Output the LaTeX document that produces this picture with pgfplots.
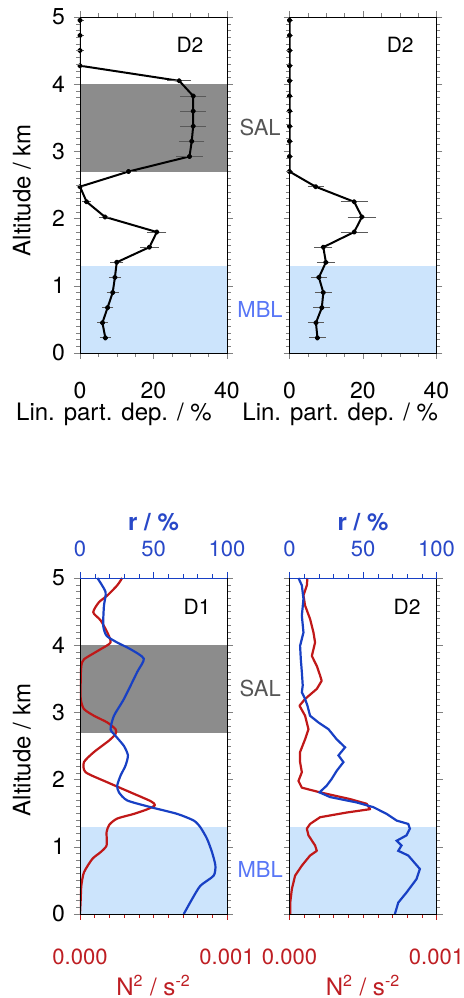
\documentclass[border=0pt]{standalone}
\usepackage{fontspec}
\setmainfont{TeX Gyre Heros}
\usepackage{pgfplots}
\pgfplotsset{compat=1.18}

\definecolor{salgrey}{RGB}{140,140,140}
\definecolor{mblblue}{RGB}{204,228,252}
\definecolor{mbltext}{RGB}{88,118,246}
\definecolor{saltext}{RGB}{85,85,85}
\definecolor{nred}{RGB}{192,24,24}
\definecolor{rblue}{RGB}{24,64,196}
\definecolor{ntext}{RGB}{190,30,35}
\definecolor{rtext}{RGB}{40,72,200}

\newcommand{\fa}{\fontsize{12}{14}\selectfont}   % axis labels
\newcommand{\ft}{\fontsize{11.5}{13}\selectfont} % tick labels (top)
\newcommand{\fb}{\fontsize{11}{13}\selectfont}   % tick labels (bottom)
\newcommand{\fc}{\fontsize{10.5}{12}\selectfont} % panel names
\newcommand{\fs}{\fontsize{11}{13}\selectfont}   % SAL / MBL

\pgfplotsset{
  panel/.style={
    scale only axis, width=73.5pt, height=168pt,
    ymin=0, ymax=5, ytick={0,1,2,3,4,5}, minor y tick num=9,
    tick align=outside, major tick length=3pt, minor tick length=1.8pt,
    axis on top, clip mode=individual,
    /pgf/number format/assume math mode=true,
    tick label style={font=\ft},
    label style={font=\fa},
    yticklabel style={xshift=-1pt},
    every axis plot/.append style={line join=round},
  },
  toppanel/.style={
    panel, xmin=0, xmax=40, xtick={0,20,40}, minor x tick num=3,
    xticklabel style={yshift=-8pt},
  },
  dep/.style={
    black, line width=1pt, mark=*, mark size=0.85pt,
    error bars/.cd, x dir=both, x explicit,
    error bar style={draw=black!65, line width=0.4pt},
    error mark options={draw=black!65, mark size=1.6pt, line width=0.4pt},
  },
  npanel/.style={
    panel, xmin=0, xmax=0.001, xtick={0,0.001}, xticklabels={0.000,0.001},
    scaled x ticks=false,
    minor x tick num=9, xtick pos=lower,
    x tick style={nred}, minor x tick style={nred},
    xticklabel style={font=\fb, text=ntext, yshift=-11pt},
    xlabel={N\textsuperscript{2} / s\textsuperscript{-2}},
    xlabel style={text=ntext, at={(axis description cs:0.5,-0.212)}, anchor=center},
  },
  rpanel/.style={
    scale only axis, width=73.5pt, height=168pt,
    ymin=0, ymax=5, xmin=0, xmax=100, xtick={0,50,100}, minor x tick num=4,
    axis x line*=top, axis y line=none,
    tick align=outside, major tick length=3pt, minor tick length=1.8pt,
    x axis line style={rblue, -}, x tick style={rblue}, minor x tick style={rblue},
    /pgf/number format/assume math mode=true,
    xticklabel style={font=\fb, text=rtext, yshift=4pt},
    xlabel={r / \%},
    xlabel style={font=\fa\bfseries, text=rtext, at={(axis description cs:0.5,1.167)}, anchor=center},
  },
}

\begin{document}
\begin{tikzpicture}
\useasboundingbox (0,0) rectangle (231.5pt,499pt);

% top left: depolarisation D2
\begin{axis}[toppanel, at={(40pt,322.5pt)}, anchor=south west,
  xlabel={Lin. part. dep. / \%},
  xlabel style={at={(axis description cs:0.231,-0.183)}, anchor=center},
  ylabel={Altitude / km},
  ylabel style={at={(axis description cs:-0.395,0.485)}, anchor=center}]
\addplot[draw=none, fill=salgrey] coordinates {(0,2.7) (40,2.7) (40,4.0) (0,4.0)} -- cycle;
\addplot[draw=none, fill=mblblue] coordinates {(0,0) (40,0) (40,1.3) (0,1.3)} -- cycle;
\addplot[dep] coordinates {
  (0,4.95) +- (0.1,0)
  (0,4.725) +- (0.1,0)
  (0,4.5) +- (0.1,0)
  (0,4.275) +- (0.1,0)
  (27.0,4.05) +- (2.4,0)
  (30.8,3.825) +- (2.7,0)
  (30.8,3.6) +- (2.6,0)
  (30.8,3.375) +- (2.6,0)
  (30.4,3.15) +- (2.6,0)
  (29.8,2.925) +- (2.7,0)
  (13.2,2.7) +- (1.5,0)
  (0,2.475) +- (0.2,0)
  (1.8,2.25) +- (0.3,0)
  (6.8,2.025) +- (0.8,0)
  (20.9,1.8) +- (1.7,0)
  (18.9,1.575) +- (1.6,0)
  (10.0,1.35) +- (0.9,0)
  (9.5,1.125) +- (0.8,0)
  (8.9,0.9) +- (0.8,0)
  (7.5,0.675) +- (0.7,0)
  (6.1,0.45) +- (0.6,0)
  (6.9,0.225) +- (0.6,0)
};
\node[font=\fc] at (axis description cs:0.748,0.917) {D2};
\node[font=\fs, text=saltext] at (axis cs:49,3.35) {SAL};
\node[font=\fs, text=mbltext] at (axis cs:49,0.65) {MBL};
\end{axis}

% top right: depolarisation D2
\begin{axis}[toppanel, at={(144.75pt,322.5pt)}, anchor=south west,
  yticklabels={},
  xlabel={Lin. part. dep. / \%},
  xlabel style={at={(axis description cs:0.345,-0.183)}, anchor=center}]
\addplot[draw=none, fill=mblblue] coordinates {(0,0) (40,0) (40,1.3) (0,1.3)} -- cycle;
\addplot[dep] coordinates {
  (0,4.95) +- (0.1,0)
  (0,4.725) +- (0.1,0)
  (0,4.5) +- (0.1,0)
  (0,4.275) +- (0.1,0)
  (0,4.05) +- (0.1,0)
  (0,3.825) +- (0.1,0)
  (0,3.6) +- (0.1,0)
  (0,3.375) +- (0.1,0)
  (0,3.15) +- (0.1,0)
  (0,2.925) +- (0.1,0)
  (0,2.7) +- (0.1,0)
  (7.1,2.475) +- (1.3,0)
  (17.6,2.25) +- (2.8,0)
  (19.7,2.025) +- (3.0,0)
  (17.6,1.8) +- (2.8,0)
  (9.2,1.575) +- (1.6,0)
  (9.9,1.35) +- (1.6,0)
  (8.0,1.125) +- (1.3,0)
  (9.2,0.9) +- (1.4,0)
  (8.8,0.675) +- (1.4,0)
  (7.2,0.45) +- (1.3,0)
  (7.6,0.225) +- (1.4,0)
};
\node[font=\fc] at (axis description cs:0.753,0.917) {D2};
\end{axis}

% bottom left: N^2 and r, D1
\begin{axis}[npanel, at={(40pt,42pt)}, anchor=south west,
  ylabel={Altitude / km},
  ylabel style={at={(axis description cs:-0.395,0.488)}, anchor=center}]
\addplot[draw=none, fill=salgrey] coordinates {(0,2.7) (0.001,2.7) (0.001,4.0) (0,4.0)} -- cycle;
\addplot[draw=none, fill=mblblue] coordinates {(0,0) (0.001,0) (0.001,1.3) (0,1.3)} -- cycle;
\addplot[nred, line width=1.1pt, smooth, tension=0.4] coordinates {
  (0,0) (0.000005,0.22) (0.000009,0.42) (0.000027,0.62) (0.000084,0.82)
  (0.000140,0.92) (0.000181,1.02) (0.000181,1.22) (0.000200,1.33)
  (0.000253,1.42) (0.000367,1.49) (0.000460,1.56) (0.000510,1.62)
  (0.000480,1.68) (0.000344,1.81) (0.000186,1.96) (0.000038,2.11)
  (0.000027,2.26) (0.000095,2.41) (0.000197,2.58) (0.000242,2.68)
  (0.000242,2.75) (0.000186,2.85) (0.000095,2.95) (0.000027,3.05)
  (0.000005,3.20) (0.000005,3.50) (0.000009,3.69) (0.000027,3.79)
  (0.000140,3.94) (0.000208,4.04) (0.000186,4.19) (0.000140,4.37)
  (0.000090,4.49) (0.000129,4.64) (0.000186,4.74) (0.000253,4.89)
  (0.000287,5.0)
};
\node[font=\fc] at (axis description cs:0.796,0.914) {D1};
\node[font=\fs, text=saltext] at (axis cs:0.001226,3.35) {SAL};
\node[font=\fs, text=mbltext] at (axis cs:0.001226,0.66) {MBL};
\end{axis}
\begin{axis}[rpanel, at={(40pt,42pt)}, anchor=south west]
\addplot[rblue, line width=1.1pt, smooth, tension=0.4] coordinates {
  (70.6,0) (76.2,0.22) (81.9,0.42) (90.9,0.57) (92.1,0.72) (89.8,0.92)
  (86.4,1.12) (81.9,1.29) (77.4,1.39) (66.1,1.49) (48.0,1.59) (32.1,1.69)
  (26.5,1.81) (25.3,1.91) (27.6,2.06) (31.0,2.21) (32.6,2.36) (29.9,2.50)
  (24.2,2.65) (20.8,2.75) (23.1,2.95) (29.9,3.20) (38.9,3.60) (43.4,3.80)
  (34.4,3.94) (25.3,4.04) (18.1,4.14) (15.8,4.29) (16.3,4.59) (17.4,4.79)
  (11.8,5.0)
};
\end{axis}

% bottom right: N^2 and r, D2
\begin{axis}[npanel, at={(144.75pt,42pt)}, anchor=south west, yticklabels={}]
\addplot[draw=none, fill=mblblue] coordinates {(0,0) (0.001,0) (0.001,1.3) (0,1.3)} -- cycle;
\addplot[nred, line width=1.1pt] coordinates {
  (0.000005,0) (0.000005,0.17) (0.000016,0.37) (0.000038,0.57)
  (0.000084,0.72) (0.000140,0.87) (0.000186,0.94) (0.000174,1.02)
  (0.000129,1.17) (0.000118,1.27) (0.000140,1.34) (0.000208,1.44)
  (0.000389,1.51) (0.000548,1.56) (0.000525,1.64) (0.000412,1.71)
  (0.000208,1.81) (0.000084,1.88) (0.000061,1.98) (0.000084,2.11)
  (0.000072,2.26) (0.000072,2.41) (0.000106,2.60) (0.000129,2.75)
  (0.000106,2.95) (0.000068,3.10) (0.000106,3.20) (0.000186,3.35)
  (0.000219,3.47) (0.000208,3.55) (0.000186,3.69) (0.000152,3.84)
  (0.000174,4.04) (0.000163,4.19) (0.000140,4.39) (0.000106,4.59)
  (0.000095,4.74) (0.000118,4.89) (0.000122,5.0)
};
\node[font=\fc] at (axis description cs:0.80,0.914) {D2};
\end{axis}
\begin{axis}[rpanel, at={(144.75pt,42pt)}, anchor=south west]
\addplot[rblue, line width=1.1pt] coordinates {
  (71.7,0) (74.0,0.17) (79.6,0.32) (86.4,0.52) (88.7,0.67) (80.8,0.87)
  (74.0,0.94) (76.2,1.02) (72.9,1.09) (79.6,1.17) (81.9,1.27) (80.8,1.34)
  (72.9,1.39) (66.1,1.49) (57.0,1.59) (45.7,1.66) (27.6,1.74) (20.4,1.81)
  (25.3,1.91) (28.7,2.01) (32.1,2.13) (36.7,2.26) (33.3,2.36) (37.8,2.48)
  (32.1,2.60) (26.5,2.75) (19.7,2.85) (14.0,2.95) (12.2,3.10) (10.6,3.20)
  (8.4,3.30) (9.0,3.40) (8.4,3.60) (7.7,3.79) (7.2,3.99) (9.5,4.19)
  (8.4,4.44) (9.5,4.69) (8.4,4.89) (6.1,5.0)
};
\end{axis}
\end{tikzpicture}
\end{document}
